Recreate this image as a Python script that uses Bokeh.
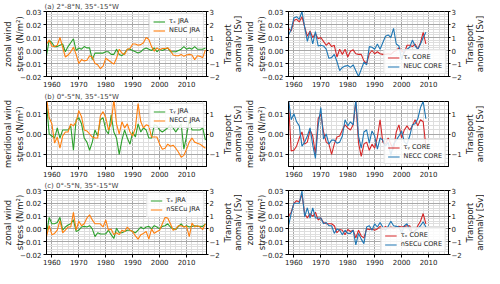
import math
from bokeh.plotting import figure
from bokeh.models import (Range1d, LinearAxis, SingleIntervalTicker, CustomJSTickFormatter,
                          Legend, LegendItem, ColumnDataSource, Label)
from bokeh.layouts import column, row
from bokeh.embed import file_html
from bokeh.resources import INLINE

FONT = "DejaVu Sans"
GREEN = "#2ca02c"
ORANGE = "#ff7f0e"
RED = "#d62728"
BLUE = "#1f77b4"

# ---------------- data ----------------
jra_years = list(range(1958, 2018))
core_years = list(range(1958, 2010))

# (a) 2-8N : zonal wind stress and NEUC transport
taux_jra_a = [-0.004, 0.008, 0.006, 0.003, 0.003, 0.004, 0.005, -0.001, 0.003, 0.006,
              0.009, 0.000, 0.002, 0.001, 0.003, 0.002, 0.002, -0.007, -0.002, -0.002,
              -0.002, -0.002, -0.001, -0.001, -0.003, -0.003, 0.001, -0.003, -0.004, -0.002,
              0.001, 0.001, 0.000, -0.001, -0.002, -0.001, 0.001, 0.002, 0.001, 0.000,
              0.002, -0.001, 0.001, 0.000, 0.001, 0.002, -0.001, -0.001, -0.001, 0.000,
              0.001, 0.003, 0.001, 0.002, 0.001, 0.003, 0.001, 0.001, 0.001, 0.002]
neuc_jra = [0.5, 0.8, 0.35, 0.3, 0.4, 1.0, 0.25, -0.5, -0.35, -0.1,
            0.25, -0.3, -1.0, -0.7, -0.8, -0.75, -0.4, -0.5, -1.0, -1.1,
            -1.4, -1.2, -0.6, -0.75, -0.9, -1.05, -0.6, 0.1, -0.2, -0.3,
            0.1, 0.15, 0.5, 0.5, 0.4, 0.45, 0.6, 1.0, 0.85, 0.3,
            -0.05, 0.2, 0.05, 0.15, 0.15, 0.2, 0.0, -0.35, -0.4, -0.4,
            -0.3, -0.45, -0.35, -0.3, -0.35, -0.7, -0.4, -0.45, -0.55, 0.05]
taux_core_a = [0.017, 0.015, 0.023, 0.024, 0.022, 0.026, 0.018, 0.011, 0.015, 0.010,
               0.013, 0.009, 0.010, 0.007, 0.004, 0.006, 0.003, 0.004, -0.005, 0.001,
               -0.003, 0.001, -0.005, -0.0005, 0.0005, -0.0025, -0.003, -0.003, -0.008, -0.010,
               -0.0025, 0.000, -0.0025, -0.001, -0.0025, -0.003, -0.003, -0.0025, -0.003, -0.001,
               0.000, 0.002, 0.000, -0.002, 0.004, 0.004, 0.003, 0.005, 0.001, 0.006,
               0.014, 0.005]
neuc_core = [1.2, 1.6, 2.5, 2.6, 2.4, 3.0, 1.8, 0.7, 1.45, 0.5,
             1.45, 0.35, 0.4, 0.35, 0.1, -0.6, -0.55, -0.3, -0.85, -1.55,
             -1.3, -1.2, -1.15, -1.3, -1.1, -1.55, -2.0, -1.45, -0.9, -1.1,
             0.3, 0.25, 0.1, 0.5, 0.1, 0.6, 1.1, 1.2, 1.0, 1.7,
             0.5, 0.35, -0.7, 0.0, 0.1, 0.25, 0.8, 0.35, 0.1, 0.5,
             1.0, 1.4]

# (b) 0-5N : meridional wind stress and NECC transport
tauy_jra_b = [0.015, 0.000, -0.001, -0.002, 0.003, -0.002, 0.002, 0.002, 0.002, 0.004,
              -0.008, 0.007, 0.008, 0.005, -0.002, -0.004, -0.008, -0.004, 0.002, -0.001,
              0.007, 0.008, 0.002, 0.000, 0.0095, 0.001, -0.002, -0.010, -0.003, 0.002,
              -0.002, -0.005, 0.001, -0.0015, 0.005, 0.001, 0.003, 0.002, -0.002, -0.002,
              0.0045, 0.004, 0.002, 0.001, 0.002, 0.003, 0.0045, 0.003, 0.001, 0.003,
              0.005, -0.0075, -0.001, 0.007, 0.002, 0.002, 0.002, 0.002, 0.003, -0.003]
necc_jra = [1.8, 0.8, 0.5, -0.45, -0.15, -0.7, -0.1, 0.1, 0.1, 0.5,
            0.4, 0.6, 1.15, 0.85, 0.2, 0.15, 0.0, -0.15, -0.2, -0.2,
            0.9, 1.1, 0.8, 0.2, 0.5, 1.7, 0.5, 0.0, 0.6, 0.3,
            0.5, 0.1, -0.1, 0.3, 1.5, 0.6, 0.3, 0.45, 0.4, -0.15,
            -0.15, -0.15, -0.5, -0.75, -0.7, -0.5, -0.6, -0.55, -0.7, -0.9,
            -1.15, -1.05, -0.75, -0.4, -0.2, -0.4, -0.45, -0.5, -0.6, -0.7]
tauy_core_b = [0.016, -0.0083, -0.008, -0.006, -0.002, 0.001, -0.005, -0.004, 0.002, -0.001,
               -0.010, 0.0075, 0.010, 0.001, -0.004, -0.005, -0.010, -0.005, -0.0015, -0.001,
               0.002, 0.0045, 0.003, 0.002, 0.0045, 0.016, -0.0045, -0.011, -0.005, -0.004,
               -0.008, -0.005, -0.007, -0.0015, 0.007, -0.004, -0.005, -0.002, -0.005, -0.0075,
               0.001, 0.0045, -0.002, 0.002, 0.004, 0.002, 0.004, 0.007, 0.004, 0.007,
               0.006, -0.006]
necc_core = [1.7, 0.7, 1.0, 0.6, 0.4, -0.6, -0.4, -0.1, 0.3, -0.55,
             -1.2, 0.4, 1.3, -0.25, 0.0, -0.5, -0.3, -0.3, -0.45, -0.4,
             -0.1, 0.7, 0.4, 0.6, 0.45, 1.7, -0.1, -0.7, 0.1, 0.2,
             -0.45, 0.15, -0.1, -0.75, -0.2, -0.3, -0.6, -0.4, -1.05, -0.5,
             -0.3, -0.1, 0.15, -0.4, -0.5, -0.1, 0.45, 0.5, 0.75, 1.3,
             1.6, 0.75]

# (c) 0-5N : zonal wind stress and nSECu transport
taux_jra_c = [-0.004, 0.009, 0.004, 0.004, 0.005, 0.009, -0.001, 0.0015, 0.003, 0.004,
              0.007, -0.002, -0.001, 0.0015, 0.002, 0.0015, 0.0025, 0.000, -0.006, -0.003,
              -0.004, -0.004, -0.004, -0.001, -0.0045, -0.0075, 0.0005, -0.003, -0.003, -0.002,
              -0.001, -0.001, -0.002, -0.003, -0.001, 0.0015, 0.000, 0.0015, 0.002, 0.000,
              0.0025, 0.0015, 0.000, 0.002, 0.0025, 0.004, 0.0015, 0.000, -0.0005, 0.002,
              0.004, 0.0015, 0.0025, 0.0015, 0.002, 0.0025, 0.002, 0.002, 0.002, 0.004]
nsecu_jra = [-0.6, 0.25, -0.45, -0.35, -0.1, 0.65, -0.3, -0.1, 0.15, 0.15,
             1.3, -0.1, 0.6, 0.25, 0.4, 0.85, 1.1, 0.7, 0.4, 0.4,
             0.4, 0.15, 0.7, -0.1, 0.0, -0.45, -0.3, -0.45, -0.1, -0.2,
             0.15, -0.1, -0.2, -0.55, -0.8, -0.45, -0.35, -0.2, -0.8, 0.0,
             -0.35, -0.2, -0.1, 0.4, 0.9, 0.85, 0.4, -0.1, 0.0, 0.25,
             0.25, 0.15, 0.2, -0.6, 0.45, 0.15, 0.25, 0.15, -0.05, 0.4]
taux_core_c = [0.0097, 0.013, 0.020, 0.022, 0.021, 0.027, 0.012, 0.0085, 0.012, 0.0097,
               0.013, 0.007, 0.0085, 0.005, 0.004, 0.004, 0.004, 0.0025, -0.003, -0.0005,
               -0.001, -0.0045, -0.0005, -0.002, -0.001, -0.007, -0.001, -0.0055, -0.007, 0.000,
               -0.0005, 0.000, -0.001, 0.000, 0.002, -0.0005, 0.002, 0.000, 0.0015, 0.000,
               0.0015, 0.002, 0.0015, 0.002, 0.0025, 0.0025, -0.003, -0.002, 0.0025, 0.006,
               0.012, 0.004]
nsecu_core = [0.25, 1.2, 2.0, 2.0, 2.0, 2.95, 0.95, 1.65, 0.85, 1.65,
              0.85, 0.85, 0.85, 0.4, 0.5, 0.25, 0.25, -0.35, 0.0, -0.1,
              -0.45, -0.1, -0.35, -0.35, -0.1, -1.25, -0.35, -0.8, -1.15, 0.15,
              0.25, -0.1, 0.4, 0.15, 0.5, 0.15, -0.1, 0.2, 0.6, 0.25,
              0.2, 0.15, -0.35, 0.25, 0.4, -0.1, -0.35, -0.1, 0.0, 0.25,
              0.55, 0.15]

titles = ["(a) 2°-8°N, 35°-15°W", "(b) 0°-5°N, 35°-15°W", "(c) 0°-5°N, 35°-15°W"]
left_labels = ["zonal wind\nstress (N/m²)", "meridional wind\nstress (N/m²)", "zonal wind\nstress (N/m²)"]
right_label_lines = ["Transport", "anomaly [Sv]"]
stress_ranges = [(-0.02, 0.03), (-0.016, 0.016), (-0.02, 0.03)]
sv_ranges = [(-2.0, 3.0), (-1.6, 1.6), (-2.0, 3.0)]
x_limits = (1958, 2017.4)

LEFT_FMT = CustomJSTickFormatter(code="""
    if (Math.abs(tick) < 1e-9) return '0.00';
    const s = Math.abs(tick).toFixed(2);
    return tick < 0 ? '\\u2212' + s : s;
""")
RIGHT_FMT = CustomJSTickFormatter(code="""
    const v = Math.round(tick);
    return v < 0 ? '\\u2212' + Math.abs(v) : String(v);
""")

PANEL_W = 222
LABEL_W = 20


def style_axis(ax):
    ax.major_label_text_font = FONT
    ax.major_label_text_font_size = "7px"
    ax.major_label_text_color = "#1a1a1a"
    ax.axis_label_text_font = FONT
    ax.axis_label_text_font_size = "8.5px"
    ax.axis_label_text_font_style = "normal"
    ax.axis_label_text_color = "#1a1a1a"
    ax.axis_line_color = "black"
    ax.major_tick_line_color = "black"
    ax.major_tick_in = 0
    ax.major_tick_out = 3
    ax.minor_tick_in = 0
    ax.minor_tick_out = 0
    ax.major_label_standoff = 2


def panel(i, years, s1, s2, lab1, lab2, c1, c2, leg_loc, height, top, bottom, title):
    p = figure(width=PANEL_W, height=height, x_range=Range1d(*x_limits),
               y_range=Range1d(*stress_ranges[i]), output_backend="svg",
               toolbar_location=None, min_border_left=40, min_border_right=14,
               min_border_top=top, min_border_bottom=bottom)
    p.extra_y_ranges = {"sv": Range1d(*sv_ranges[i])}
    p.title.text = title
    p.title.text_font = FONT
    p.title.text_font_size = "7px"
    p.title.text_font_style = "normal"
    p.title.align = "left"
    p.title.offset = -2
    p.title.standoff = 1
    p.outline_line_color = "black"
    p.outline_line_alpha = 1.0
    p.background_fill_color = "white"

    p.xaxis.ticker = SingleIntervalTicker(interval=10, num_minor_ticks=5)
    p.yaxis.ticker = SingleIntervalTicker(interval=0.01, num_minor_ticks=5)
    p.yaxis.formatter = LEFT_FMT
    p.yaxis.axis_label = left_labels[i]
    for ax in p.xaxis + p.yaxis:
        style_axis(ax)
    p.yaxis.axis_label_standoff = -8
    p.xaxis.major_label_standoff = 1

    rax = LinearAxis(y_range_name="sv", ticker=SingleIntervalTicker(interval=1, num_minor_ticks=0),
                     formatter=RIGHT_FMT)
    style_axis(rax)
    rax.major_tick_out = 2
    rax.major_label_standoff = 1
    p.add_layout(rax, "right")

    for g in (p.xgrid, p.ygrid):
        g.grid_line_color = "#a8a8a8"
        g.grid_line_width = 1
        g.minor_grid_line_color = "#dedede"
        g.minor_grid_line_width = 1

    src = ColumnDataSource(dict(year=years, s1=s1, s2=s2))
    r1 = p.line("year", "s1", source=src, line_color=c1, line_width=1.1)
    r2 = p.line("year", "s2", source=src, line_color=c2, line_width=1.1, y_range_name="sv")

    leg = Legend(items=[LegendItem(label=lab1, renderers=[r1]),
                        LegendItem(label=lab2, renderers=[r2])],
                 location=leg_loc)
    leg.label_text_font = FONT
    leg.label_text_font_size = "6.5px"
    leg.label_text_color = "#1a1a1a"
    leg.glyph_width = 12
    leg.glyph_height = 7
    leg.label_height = 7
    leg.label_standoff = 4
    leg.spacing = 1
    leg.padding = 3
    leg.margin = 2
    leg.border_line_color = "#cccccc"
    leg.background_fill_alpha = 0.85
    p.add_layout(leg)
    return p


def side_label(height, top, bottom):
    """Narrow strip carrying the right-hand axis title, read bottom-to-top."""
    q = figure(width=LABEL_W, height=height, x_range=Range1d(0, LABEL_W), y_range=Range1d(0, 1),
               output_backend="svg", toolbar_location=None, x_axis_type=None, y_axis_type=None,
               min_border_left=0, min_border_right=0, min_border_top=top, min_border_bottom=bottom)
    q.grid.visible = False
    q.outline_line_color = None
    q.background_fill_alpha = 0
    q.border_fill_alpha = 0
    for k, txt in enumerate(right_label_lines):
        q.add_layout(Label(x=5.5 + 9.5 * k, y=0.5, text=txt, angle=math.pi / 2,
                           text_align="center", text_baseline="middle",
                           text_font=FONT, text_font_size="8.5px", text_color="#1a1a1a"))
    return q


heights = [90, 89, 89]
tops = [10, 10, 10]
bottoms = [14, 13, 14]

rows = []
spec = [
    (taux_jra_a, neuc_jra, taux_core_a, neuc_core, "τₓ JRA", "NEUC JRA", "τₓ CORE", "NEUC CORE"),
    (tauy_jra_b, necc_jra, tauy_core_b, necc_core, "τᵧ JRA", "NECC JRA", "τᵧ CORE", "NECC CORE"),
    (taux_jra_c, nsecu_jra, taux_core_c, nsecu_core, "τₓ JRA", "nSECu JRA", "τₓ CORE", "nSECu CORE"),
]
for i, (a1, a2, b1, b2, la1, la2, lb1, lb2) in enumerate(spec):
    pl = panel(i, jra_years, a1, a2, la1, la2, GREEN, ORANGE, "top_right",
               heights[i], tops[i], bottoms[i], titles[i])
    pr = panel(i, core_years, b1, b2, lb1, lb2, RED, BLUE, "bottom_right",
               heights[i], tops[i], bottoms[i], "")
    rows.append(row(pl, side_label(heights[i], tops[i], bottoms[i]),
                    pr, side_label(heights[i], tops[i], bottoms[i])))

layout = column(*rows)
open("out.html", "w").write(file_html(layout, INLINE))
